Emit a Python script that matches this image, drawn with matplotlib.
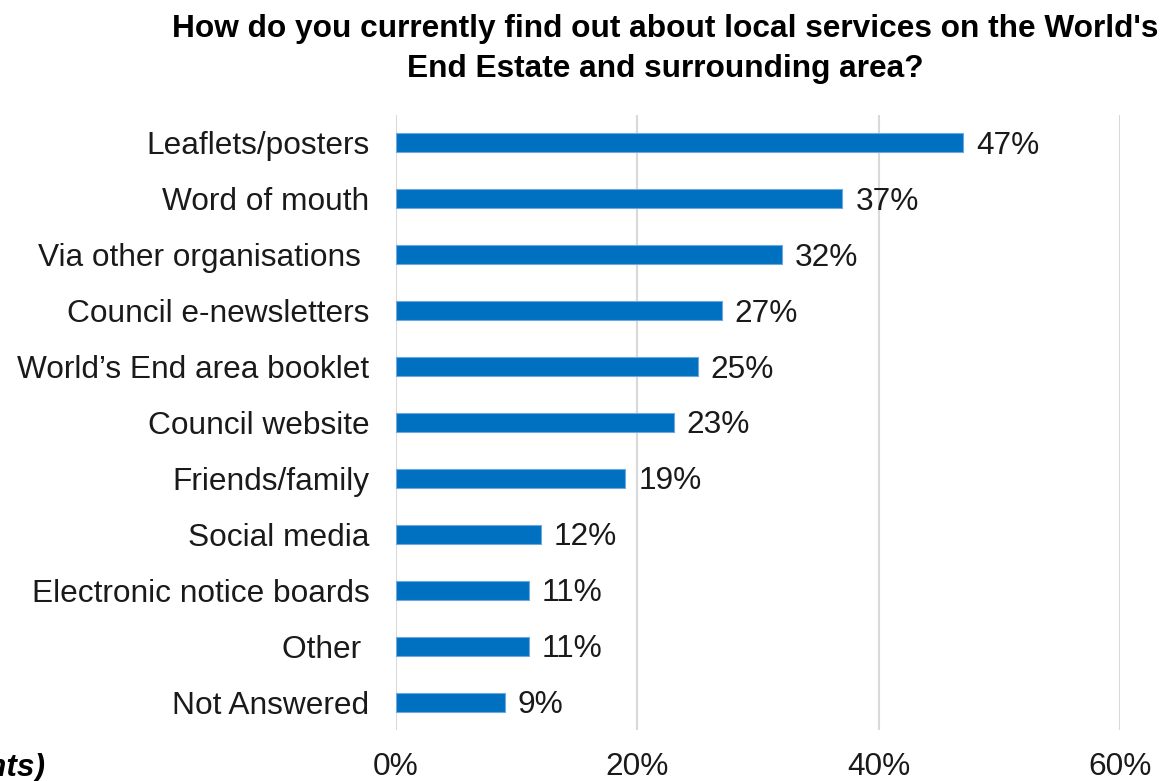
import matplotlib
matplotlib.use("Agg")
import matplotlib.pyplot as plt
from matplotlib.ticker import FuncFormatter

categories = [
    "Leaflets/posters",
    "Word of mouth",
    "Via other organisations ",
    "Council e-newsletters",
    "World\u2019s End area booklet",
    "Council website",
    "Friends/family",
    "Social media",
    "Electronic notice boards",
    "Other ",
    "Not Answered",
]
values = [47, 37, 32, 27, 25, 23, 19, 12, 11, 11, 9]
x_ticks = [0, 20, 40, 60]

title = ("How do you currently find out about local services on the World's\n"
         "End Estate and surrounding area?")
base_note = "(Base: all respondents)"

plt.rcParams["font.family"] = ["Liberation Sans", "DejaVu Sans"]

W, H = 1167, 781
fig = plt.figure(figsize=(W / 100, H / 100), dpi=100)
ax = fig.add_axes([396 / W, 1 - 730 / H, 724 / W, 615 / H])

FS = 22.8
ypos = list(range(len(categories)))
ax.barh(ypos, values, height=0.34, color="#0070C0",
        edgecolor="#6FA8DC", linewidth=0.8, zorder=3)

for y, v in zip(ypos, values):
    ax.annotate(f"{v}%", xy=(v, y), xytext=(13, -3), textcoords="offset pixels",
                ha="left", va="center", fontsize=FS, color="#1a1a1a")

ax.set_xlim(0, 60)
ax.set_ylim(len(categories) - 0.5, -0.5)
ax.set_yticks(ypos)
ax.set_yticklabels(categories, fontsize=FS, color="#1a1a1a")
ax.set_xticks(x_ticks)
ax.xaxis.set_major_formatter(FuncFormatter(lambda v, p: f"{v:.0f}%"))
ax.tick_params(axis="x", labelsize=FS, colors="#1a1a1a", length=0, pad=16)
ax.tick_params(axis="y", length=0, pad=19)

ax.grid(axis="x", color="#D9D9D9", linewidth=1.5, zorder=0)
for s in ax.spines.values():
    s.set_visible(False)

fig.text(665 / W, 1 - 14 / H, title, ha="center", va="top",
         fontsize=22.8, fontweight="bold", color="#000000", linespacing=1.42)

fig.text(45 / W, 1 - 768 / H, base_note, ha="right", va="center",
         fontsize=FS, fontweight="bold", fontstyle="italic", color="#000000")

fig.savefig("out.png", dpi=100)
